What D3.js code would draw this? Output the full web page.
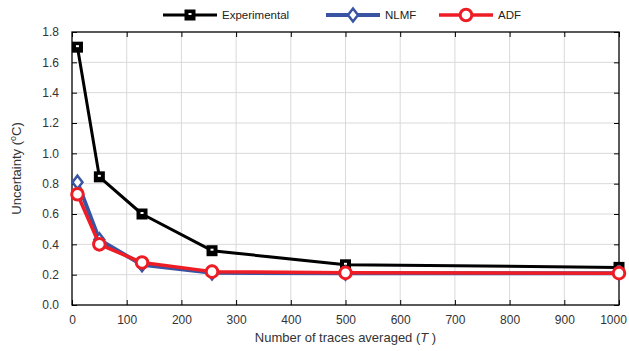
<!DOCTYPE html>
<html>
<head>
<meta charset="utf-8">
<script src="https://cdn.jsdelivr.net/npm/d3@7"></script>
<style>
  body { margin: 0; background: #fff; }
  text { font-family: "Liberation Sans", Arial, sans-serif; }
</style>
</head>
<body>
<div id="chart"></div>
<script>
// data
const traces = [10, 50, 128, 256, 500, 1000];
const experimental = [1.70, 0.845, 0.60, 0.358, 0.265, 0.248];
const nlmf = [0.81, 0.43, 0.265, 0.212, 0.21, 0.21];
const adf = [0.73, 0.40, 0.28, 0.22, 0.212, 0.21];
const xTicks = [0, 100, 200, 300, 400, 500, 600, 700, 800, 900, 1000];
const yTicks = [0, 0.2, 0.4, 0.6, 0.8, 1.0, 1.2, 1.4, 1.6, 1.8];

const width = 629, height = 351;
const margin = { top: 32, right: 10, bottom: 46, left: 72 };
const w = width - margin.left - margin.right;
const h = height - margin.top - margin.bottom;

const svg = d3.select('#chart').append('svg')
  .attr('width', width).attr('height', height);

const g = svg.append('g')
  .attr('transform', 'translate(' + margin.left + ',' + margin.top + ')');

const x = d3.scaleLinear().domain([0, 1000]).range([0, w]);
const y = d3.scaleLinear().domain([0, 1.8]).range([h, 0]);

// grid
g.append('g').selectAll('line.vx').data(xTicks.slice(1, -1)).enter().append('line')
  .attr('x1', d => x(d)).attr('x2', d => x(d)).attr('y1', 0).attr('y2', h)
  .attr('stroke', '#d9d9d9').attr('stroke-width', 1);
g.append('g').selectAll('line.hy').data(yTicks.slice(1, -1)).enter().append('line')
  .attr('y1', d => y(d)).attr('y2', d => y(d)).attr('x1', 0).attr('x2', w)
  .attr('stroke', '#d9d9d9').attr('stroke-width', 1);

// axes (ticks pointing inward)
const styleAxis = sel => {
  sel.select('.domain').remove();
  sel.selectAll('line').attr('stroke', '#000');
  sel.selectAll('text').attr('fill', '#333').style('font-size', '12px');
};
g.append('g').attr('transform', 'translate(0,' + h + ')')
  .call(d3.axisBottom(x).tickValues(xTicks).tickFormat(d3.format('d')).tickSizeInner(-5).tickSizeOuter(0).tickPadding(10))
  .call(styleAxis)
  .selectAll('text').filter(d => d === 1000).attr('dx', -6);
g.append('g')
  .call(d3.axisLeft(y).tickValues(yTicks).tickFormat(d3.format('.1f')).tickSizeInner(-5).tickSizeOuter(0).tickPadding(13))
  .call(styleAxis);
g.append('g')
  .call(d3.axisTop(x).tickValues(xTicks).tickFormat('').tickSizeInner(-5).tickSizeOuter(0))
  .call(styleAxis);
g.append('g').attr('transform', 'translate(' + w + ',0)')
  .call(d3.axisRight(y).tickValues(yTicks).tickFormat('').tickSizeInner(-5).tickSizeOuter(0))
  .call(styleAxis);

g.append('rect').attr('width', w).attr('height', h)
  .attr('fill', 'none').attr('stroke', '#000').attr('stroke-width', 1.3);

// series
const series = [
  { name: 'Experimental', values: experimental, color: '#000000', lw: 3, marker: 'square' },
  { name: 'NLMF', values: nlmf, color: '#3a54a4', lw: 4, marker: 'diamond' },
  { name: 'ADF', values: adf, color: '#ee1d25', lw: 3.5, marker: 'circle' }
];

const line = d3.line().x(d => x(d[0])).y(d => y(d[1]));

function drawMarker(sel, s) {
  if (s.marker === 'square') {
    sel.append('rect').attr('x', -5.5).attr('y', -5.5).attr('width', 11).attr('height', 11)
      .attr('fill', '#000');
    sel.append('rect').attr('x', -1.5).attr('y', -2).attr('width', 3).attr('height', 2)
      .attr('fill', '#fff');
  } else if (s.marker === 'diamond') {
    sel.append('path').attr('d', 'M0,-6.5L5,0L0,6.5L-5,0Z')
      .attr('fill', '#fff').attr('stroke', s.color).attr('stroke-width', 2.5);
  } else {
    sel.append('circle').attr('r', 5.8)
      .attr('fill', '#fff').attr('stroke', s.color).attr('stroke-width', 3);
  }
}

series.forEach(s => {
  const pts = traces.map((t, i) => [t, s.values[i]]);
  g.append('path').datum(pts).attr('d', line)
    .attr('fill', 'none').attr('stroke', s.color).attr('stroke-width', s.lw)
    .attr('stroke-linejoin', 'round');
  pts.forEach(p => {
    const m = g.append('g').attr('transform', 'translate(' + x(p[0]) + ',' + y(p[1]) + ')');
    drawMarker(m, s);
  });
});

// legend
const legendX = [163, 326, 439];
series.forEach((s, i) => {
  const lg = svg.append('g').attr('transform', 'translate(' + legendX[i] + ',15)');
  lg.append('line').attr('x1', 0).attr('x2', 54).attr('y1', 0).attr('y2', 0)
    .attr('stroke', s.color).attr('stroke-width', s.lw);
  const m = lg.append('g').attr('transform', 'translate(27,0)');
  drawMarker(m, s);
  lg.append('text').attr('x', 59).attr('y', 4).text(s.name)
    .style('font-size', '11.5px').attr('fill', '#222');
});

// axis titles
const yt = svg.append('text')
  .attr('transform', 'translate(21,' + (margin.top + h / 2) + ') rotate(-90)')
  .attr('text-anchor', 'middle').attr('fill', '#333').style('font-size', '13px');
yt.append('tspan').text('Uncertainty (');
yt.append('tspan').text('o').attr('dy', -5).style('font-size', '9px');
yt.append('tspan').text('C)').attr('dy', 5);

const xt = svg.append('text')
  .attr('x', margin.left + w / 2).attr('y', 342)
  .attr('text-anchor', 'middle').attr('fill', '#333').style('font-size', '13px');
xt.append('tspan').text('Number of traces averaged (');
xt.append('tspan').text('T').style('font-style', 'italic');
xt.append('tspan').text(' )');
</script>
</body>
</html>
